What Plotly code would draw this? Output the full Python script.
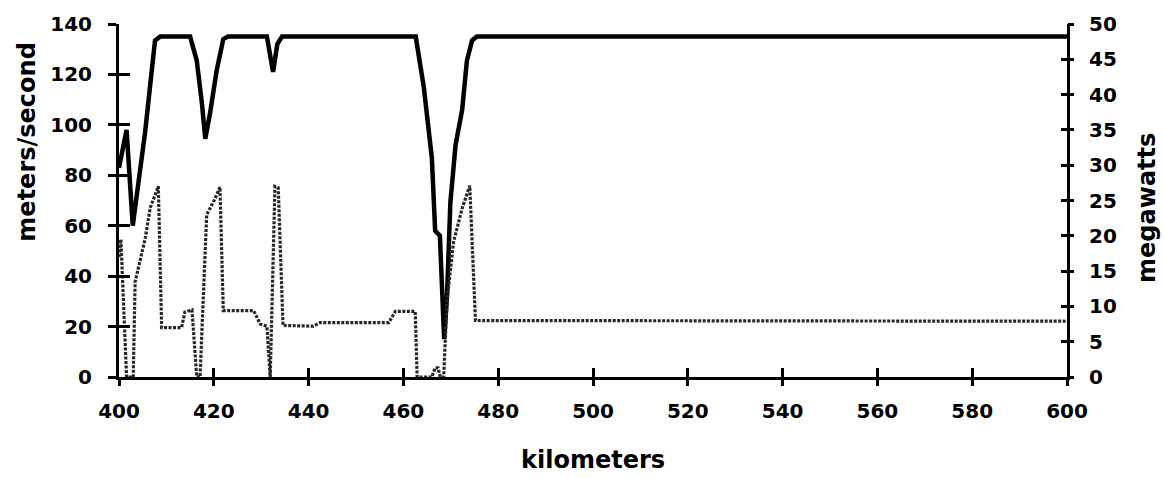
import plotly.graph_objects as go

# Solid line: speed (meters/second, left axis)
speed_km = [400.0, 401.6, 402.9, 405.5, 407.6, 408.7, 415.0, 416.4, 417.5, 418.2, 419.2,
            420.6, 422.0, 423.0, 431.2, 432.5, 433.4, 434.4, 462.6, 464.3, 466.0, 466.7,
            467.7, 468.3, 468.6, 469.2, 469.9, 471.0, 472.4, 473.4, 474.5, 475.5, 600.0]
speed_ms = [83, 98, 60, 97, 133.5, 135, 135, 125.5, 108.5, 94.5, 104.5,
            121.5, 134, 135, 135, 121, 132, 135, 135, 115, 87, 58,
            56, 24, 15, 32, 69, 92, 106, 125.5, 133.5, 135, 135]

# Dotted line: power (megawatts, right axis)
power_km = [400.0, 400.4, 401.6, 403.0, 403.4, 405.5, 406.6, 407.9, 408.3, 409.0, 413.2,
            413.9, 415.4, 416.4, 417.1, 418.5, 420.3, 421.3, 422.0, 428.4, 429.8, 431.2,
            431.9, 432.9, 433.6, 434.6, 441.0, 442.4, 456.9, 458.3, 462.5, 462.9, 466.0,
            466.7, 467.3, 467.8, 468.5, 469.2, 470.6, 472.4, 474.0, 475.2, 600.0]
power_mw = [17, 19.5, 0, 0, 13.5, 19.5, 24, 26.5, 27, 7.0, 7.0,
            9.2, 9.5, 0, 0, 23, 25.3, 26.9, 9.4, 9.4, 7.5, 7.2,
            0, 27, 26.8, 7.3, 7.2, 7.7, 7.7, 9.3, 9.3, 0, 0,
            1.3, 1.3, 0, 0, 10.8, 19.2, 23.9, 27.1, 8.0, 7.9]

x_ticks = [400, 420, 440, 460, 480, 500, 520, 540, 560, 580, 600]
left_ticks = [0, 20, 40, 60, 80, 100, 120, 140]
right_ticks = [0, 5, 10, 15, 20, 25, 30, 35, 40, 45, 50]

FONT = "DejaVu Sans"
tick_font = dict(family=FONT, size=20, color="black", weight="bold")
title_font = dict(family=FONT, size=24, color="black", weight="bold")

fig = go.Figure()
fig.add_trace(go.Scatter(x=power_km, y=power_mw, mode="lines", yaxis="y2",
                         line=dict(color="#262626", width=3.2, dash="3px,1.5px"),
                         showlegend=False, hoverinfo="skip"))
fig.add_trace(go.Scatter(x=speed_km, y=speed_ms, mode="lines",
                         line=dict(color="black", width=4.5),
                         showlegend=False, hoverinfo="skip"))
# helper traces for the tick halves
for ya in ["y3", "y4", "y5"]:
    fig.add_trace(go.Scatter(x=[], y=[], xaxis="x", yaxis=ya, showlegend=False, hoverinfo="skip"))
fig.add_trace(go.Scatter(x=[], y=[], xaxis="x2", yaxis="y", showlegend=False, hoverinfo="skip"))

common = dict(showgrid=False, zeroline=False, tickcolor="black", tickwidth=3)
helper = dict(showticklabels=False, showline=False, showgrid=False, zeroline=False,
              tickcolor="black", tickwidth=3)

fig.update_layout(
    width=1164, height=478,
    margin=dict(l=119, r=97, t=20, b=101),
    plot_bgcolor="white", paper_bgcolor="white",
    xaxis=dict(range=[400, 600], tickvals=x_ticks, ticks="outside", ticklen=6,
               showline=True, linecolor="black", linewidth=3, tickfont=tick_font,
               ticklabelstandoff=8, **common),
    xaxis2=dict(range=[400, 600], tickvals=x_ticks, ticks="inside", ticklen=9,
                overlaying="x", anchor="y", side="bottom", **helper),
    yaxis=dict(range=[0, 140], tickvals=left_ticks, ticks="outside", ticklen=8,
               showline=True, linecolor="black", linewidth=3, tickfont=tick_font,
               ticklabelstandoff=12, **common),
    yaxis3=dict(range=[0, 140], tickvals=left_ticks, ticks="inside", ticklen=11,
                overlaying="y", side="left", anchor="x", **helper),
    # right axis: labels pushed out by transparent long ticks
    yaxis2=dict(range=[0, 50], tickvals=right_ticks, ticks="outside", ticklen=15,
                overlaying="y", side="right", anchor="x",
                showline=True, linecolor="black", linewidth=3, tickfont=tick_font,
                showgrid=False, zeroline=False, tickcolor="rgba(0,0,0,0)", tickwidth=3),
    yaxis4=dict(range=[0, 50], tickvals=right_ticks, ticks="outside", ticklen=6,
                overlaying="y", side="right", anchor="x", **helper),
    yaxis5=dict(range=[0, 50], tickvals=right_ticks, ticks="inside", ticklen=6,
                overlaying="y", side="right", anchor="x", **helper),
    annotations=[
        dict(text="kilometers", xref="paper", yref="paper", x=0.5, y=-0.235,
             xanchor="center", yanchor="middle", showarrow=False, font=title_font),
        dict(text="meters/second", xref="paper", yref="paper", x=-0.097, y=0.664,
             xanchor="center", yanchor="middle", textangle=-90, showarrow=False,
             font=title_font),
        dict(text="megawatts", xref="paper", yref="paper", x=1.0844, y=0.479,
             xanchor="center", yanchor="middle", textangle=-90, showarrow=False,
             font=title_font),
    ],
)

fig.write_html("out.html")
